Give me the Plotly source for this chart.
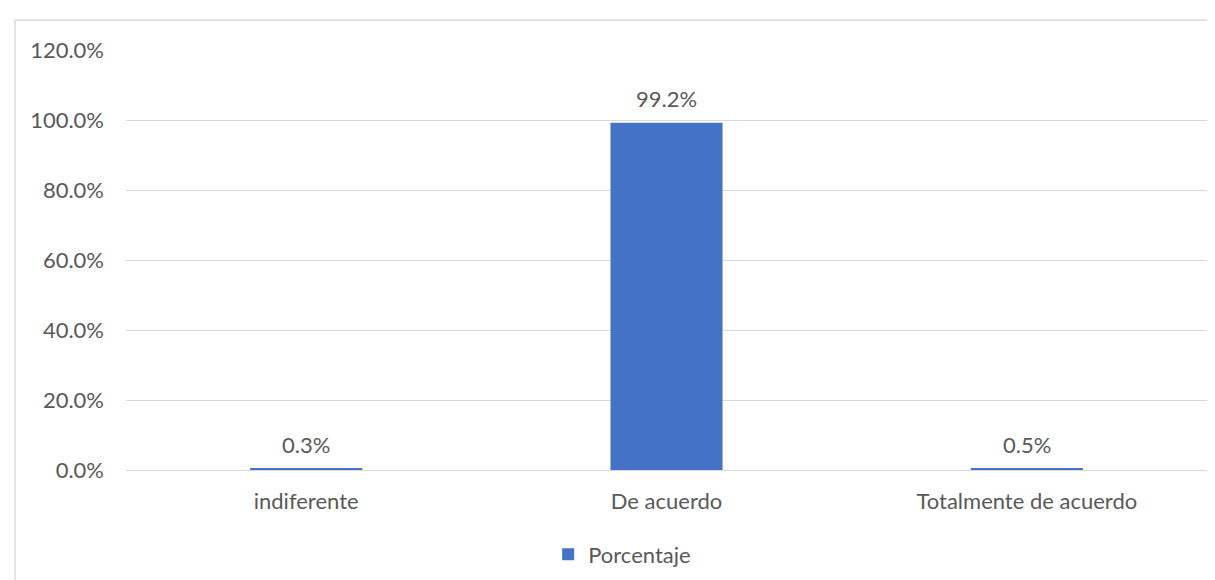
import plotly.graph_objects as go

categories = ["indiferente", "De acuerdo", "Totalmente de acuerdo"]
values = [0.003, 0.992, 0.005]
labels = ["0.3%", "99.2%", "0.5%"]
series_name = "Porcentaje"
tick_vals = [0, 0.2, 0.4, 0.6, 0.8, 1.0, 1.2]
tick_text = ["0.0%", "20.0%", "40.0%", "60.0%", "80.0%", "100.0%", "120.0%"]

FONT = "Lato"
TXT = "#595959"

fig = go.Figure()
fig.add_trace(go.Bar(
    x=categories, y=values, name=series_name,
    marker=dict(color="#4472C4", line=dict(width=0)),
    showlegend=True,
))

for c, v, t in zip(categories, values, labels):
    fig.add_annotation(x=c, y=v, text=t, showarrow=False, yanchor="middle",
                       yshift=24, font=dict(family=FONT, size=22, color=TXT))

fig.add_shape(type="rect", xref="paper", yref="paper",
              x0=-0.1027, x1=1.2, y0=-0.6, y1=1.0709,
              line=dict(color="#d9d9d9", width=1.5), fillcolor="rgba(0,0,0,0)",
              layer="below")

fig.update_layout(
    width=1215, height=580,
    margin=dict(l=118, r=16, t=42, b=115),
    paper_bgcolor="white", plot_bgcolor="white",
    bargap=0.689,
    font=dict(family=FONT, size=22, color=TXT),
    legend=dict(orientation="h", x=0.459, xanchor="center", y=-0.201, yanchor="middle",
                font=dict(family=FONT, size=22, color=TXT), itemwidth=30),
    xaxis=dict(showgrid=False, showline=False, ticks="", ticklabelstandoff=16,
               tickfont=dict(family=FONT, size=22, color=TXT)),
    yaxis=dict(range=[0, 1.2], tickvals=tick_vals, ticktext=tick_text,
               showgrid=True, gridcolor="#d9d9d9", gridwidth=1,
               zeroline=True, zerolinecolor="#d9d9d9", zerolinewidth=1,
               showline=False, ticks="", ticklabelstandoff=21,
               tickfont=dict(family=FONT, size=22, color=TXT)),
)

fig.write_html("out.html")
